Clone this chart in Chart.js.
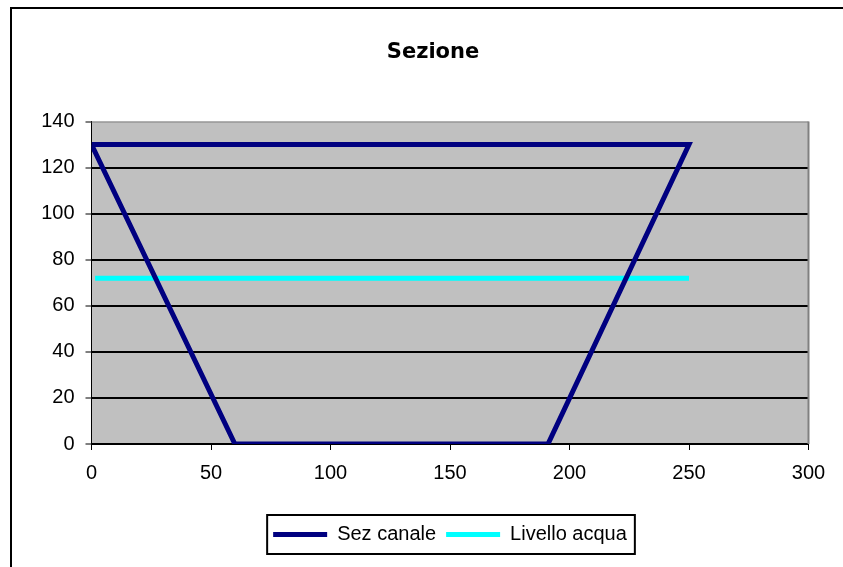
<!DOCTYPE html>
<html>
<head>
<meta charset="utf-8">
<script src="https://cdn.jsdelivr.net/npm/chart.js@4"></script>
<style>
  body { margin: 0; background: #fff; }
  #wrap { width: 843px; height: 567px; }
</style>
</head>
<body>
<div id="wrap"><canvas id="myChart" width="843" height="567"></canvas></div>
<script>
// dati della sezione
const sezX = [0, 60, 191, 250, 0];
const sezY = [130, 0, 0, 130, 130];
const livX = [1.5, 250];
const livY = [72, 72];
const seriesNames = ['Sez canale', 'Livello acqua'];
const yTicks = [0, 20, 40, 60, 80, 100, 120, 140];
const xTicks = [0, 50, 100, 150, 200, 250, 300];

const toPoints = (xs, ys) => xs.map((x, i) => ({ x: x, y: ys[i] }));

// sfondo grigio, bordo area e cornice esterna
const excelLook = {
    id: 'excelLook',
    afterLayout(chart) {
        // titolo centrato sul riquadro del grafico, non sul canvas
        if (chart.titleBlock) chart.titleBlock.left = 57.5;
    },
    beforeDraw(chart) {
        const { ctx, chartArea: a } = chart;
        ctx.save();
        ctx.fillStyle = '#000';
        ctx.fillRect(10, 7, 2, 560);
        ctx.fillRect(10, 7, 833, 2);
        ctx.fillStyle = '#C0C0C0';
        ctx.fillRect(a.left, a.top, a.right - a.left, a.bottom - a.top);
        ctx.restore();
    },
    beforeDatasetsDraw(chart) {
        const { ctx, chartArea: a } = chart;
        ctx.save();
        ctx.strokeStyle = '#808080';
        ctx.lineWidth = 1;
        ctx.beginPath();
        ctx.moveTo(a.left, a.top + 0.5);
        ctx.lineTo(a.right, a.top + 0.5);
        ctx.stroke();
        ctx.lineWidth = 2;
        ctx.beginPath();
        ctx.moveTo(a.right, a.top);
        ctx.lineTo(a.right, a.bottom);
        ctx.stroke();
        ctx.restore();
    },
    afterDraw(chart) {
        const boxes = chart.legend.legendHitBoxes;
        if (!boxes || !boxes.length) return;
        const first = boxes[0];
        const last = boxes[boxes.length - 1];
        const ctx = chart.ctx;
        ctx.save();
        ctx.strokeStyle = '#000';
        ctx.lineWidth = 2;
        const l = first.left - 6;
        const r = last.left + last.width + 8;
        const t = first.top - 9.5;
        const b = first.top + first.height + 9.5;
        ctx.strokeRect(l, t, r - l, b - t);
        ctx.restore();
    }
};

const tickFont = { family: 'Liberation Sans, Arial, sans-serif', size: 20 };

const ctx = document.getElementById('myChart').getContext('2d');
const myChart = new Chart(ctx, {
    type: 'scatter',
    data: {
        datasets: [{
            label: seriesNames[0],
            data: toPoints(sezX, sezY),
            showLine: true,
            borderColor: '#000080',
            backgroundColor: '#000080',
            borderWidth: 5,
            pointRadius: 0,
            pointHoverRadius: 0,
            tension: 0,
            fill: false
        }, {
            label: seriesNames[1],
            data: toPoints(livX, livY),
            showLine: true,
            borderColor: '#00FFFF',
            backgroundColor: '#00FFFF',
            borderWidth: 5,
            pointRadius: 0,
            pointHoverRadius: 0,
            tension: 0,
            fill: false
        }]
    },
    options: {
        responsive: false,
        animation: false,
        devicePixelRatio: 1,
        layout: { padding: { left: 0, right: 34.5, top: 0, bottom: 12.5 } },
        plugins: {
            title: {
                display: true,
                text: 'Sezione',
                color: '#000',
                font: { family: 'DejaVu Sans, sans-serif', size: 21, weight: 'bold' },
                padding: { top: 40, bottom: 56.3 }
            },
            legend: {
                position: 'bottom',
                fullSize: false,
                labels: {
                    color: '#000',
                    font: tickFont,
                    usePointStyle: true,
                    pointStyle: 'line',
                    pointStyleWidth: 54,
                    padding: 10
                }
            },
            tooltip: { enabled: false }
        },
        scales: {
            x: {
                type: 'linear',
                position: 'bottom',
                min: 0,
                max: 300,
                afterFit(scale) { scale.height = 70.5; },
                afterBuildTicks(scale) { scale.ticks = xTicks.map(v => ({ value: v })); },
                ticks: { color: '#000', font: tickFont, padding: 11, maxRotation: 0 },
                grid: { drawOnChartArea: false, tickLength: 6, tickColor: '#000', tickWidth: 1 },
                border: { color: '#000', width: 2 }
            },
            y: {
                type: 'linear',
                min: 0,
                max: 140,
                afterFit(scale) { scale.width = 91.5; },
                afterBuildTicks(scale) { scale.ticks = yTicks.map(v => ({ value: v })); },
                ticks: { color: '#000', font: tickFont, padding: 11 },
                grid: {
                    color: (c) => (c.tick && c.tick.value === 140) ? 'rgba(0,0,0,0)' : '#000',
                    lineWidth: 2,
                    tickLength: 6,
                    tickColor: '#000',
                    tickWidth: 1
                },
                border: { color: '#000', width: 1 }
            }
        }
    },
    plugins: [excelLook]
});
</script>
</body>
</html>
